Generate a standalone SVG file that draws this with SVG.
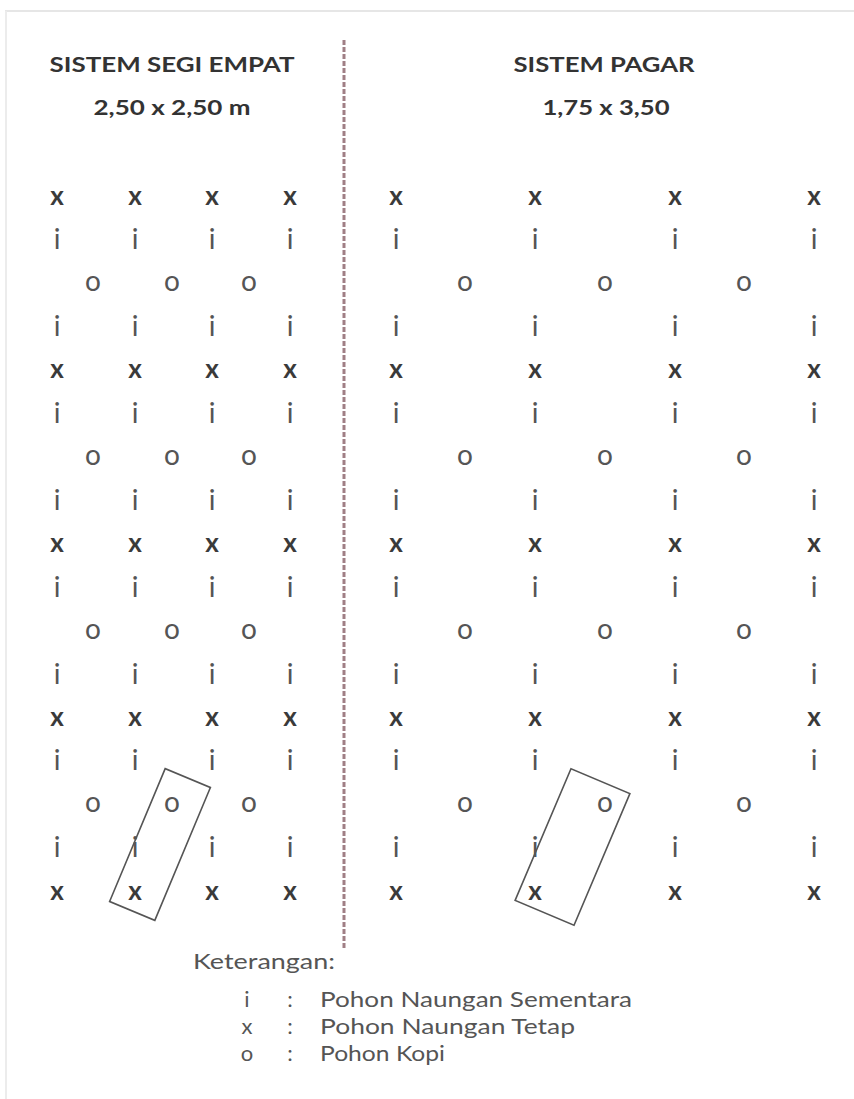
<svg xmlns="http://www.w3.org/2000/svg" width="854" height="1099" viewBox="0 0 854 1099">
<style>
.t{font-family:Lato,"Open Sans","Liberation Sans",sans-serif;font-weight:bold;font-size:21px;fill:#333;text-anchor:middle}
.m{font-family:Lato,"Open Sans","Liberation Sans",sans-serif;text-anchor:middle}
.mx{font-size:26px;font-weight:bold;fill:#3a3a3a}
.mi{font-size:28px;fill:#555}
.lg{font-family:Lato,"Open Sans","Liberation Sans",sans-serif;font-size:22px;fill:#555}
.box{fill:none;stroke:#555;stroke-width:1.6}
</style>
<rect width="854" height="1099" fill="#fff"/>
<g id="frame">
<line x1="5" y1="11" x2="854" y2="11" stroke="#e6e6e6" stroke-width="2"/>
<line x1="6" y1="11" x2="6" y2="1099" stroke="#ececec" stroke-width="2"/>
</g>
<g id="titles">
<text class="t" x="172" y="72" textLength="245" lengthAdjust="spacingAndGlyphs">SISTEM SEGI EMPAT</text>
<text class="t" x="172" y="115" textLength="157" lengthAdjust="spacingAndGlyphs">2,50 x 2,50 m</text>
<text class="t" x="604" y="72" textLength="181" lengthAdjust="spacingAndGlyphs">SISTEM PAGAR</text>
<text class="t" x="606" y="115" textLength="127" lengthAdjust="spacingAndGlyphs">1,75 x 3,50</text>
</g>
<g id="connectors">
<line x1="344" y1="40" x2="344" y2="948" stroke="#a07f85" stroke-width="3" stroke-dasharray="5 2"/>
</g>
<g id="left-grid">
<g id="left-x">
<text class="m mx" x="57" y="204.5">x</text><text class="m mx" x="135" y="204.5">x</text><text class="m mx" x="212" y="204.5">x</text><text class="m mx" x="290" y="204.5">x</text>
<text class="m mx" x="57" y="378">x</text><text class="m mx" x="135" y="378">x</text><text class="m mx" x="212" y="378">x</text><text class="m mx" x="290" y="378">x</text>
<text class="m mx" x="57" y="552">x</text><text class="m mx" x="135" y="552">x</text><text class="m mx" x="212" y="552">x</text><text class="m mx" x="290" y="552">x</text>
<text class="m mx" x="57" y="726">x</text><text class="m mx" x="135" y="726">x</text><text class="m mx" x="212" y="726">x</text><text class="m mx" x="290" y="726">x</text>
<text class="m mx" x="57" y="899.5">x</text><text class="m mx" x="135" y="899.5">x</text><text class="m mx" x="212" y="899.5">x</text><text class="m mx" x="290" y="899.5">x</text>
</g>
<g id="left-i">
<text class="m mi" x="57" y="249">i</text><text class="m mi" x="135" y="249">i</text><text class="m mi" x="212" y="249">i</text><text class="m mi" x="290" y="249">i</text>
<text class="m mi" x="57" y="336">i</text><text class="m mi" x="135" y="336">i</text><text class="m mi" x="212" y="336">i</text><text class="m mi" x="290" y="336">i</text>
<text class="m mi" x="57" y="423">i</text><text class="m mi" x="135" y="423">i</text><text class="m mi" x="212" y="423">i</text><text class="m mi" x="290" y="423">i</text>
<text class="m mi" x="57" y="510">i</text><text class="m mi" x="135" y="510">i</text><text class="m mi" x="212" y="510">i</text><text class="m mi" x="290" y="510">i</text>
<text class="m mi" x="57" y="597">i</text><text class="m mi" x="135" y="597">i</text><text class="m mi" x="212" y="597">i</text><text class="m mi" x="290" y="597">i</text>
<text class="m mi" x="57" y="684">i</text><text class="m mi" x="135" y="684">i</text><text class="m mi" x="212" y="684">i</text><text class="m mi" x="290" y="684">i</text>
<text class="m mi" x="57" y="770">i</text><text class="m mi" x="135" y="770">i</text><text class="m mi" x="212" y="770">i</text><text class="m mi" x="290" y="770">i</text>
<text class="m mi" x="57" y="857">i</text><text class="m mi" x="135" y="857">i</text><text class="m mi" x="212" y="857">i</text><text class="m mi" x="290" y="857">i</text>
</g>
<g id="left-o">
<text class="m mi" x="93" y="291">o</text><text class="m mi" x="172" y="291">o</text><text class="m mi" x="249" y="291">o</text>
<text class="m mi" x="93" y="465">o</text><text class="m mi" x="172" y="465">o</text><text class="m mi" x="249" y="465">o</text>
<text class="m mi" x="93" y="638.5">o</text><text class="m mi" x="172" y="638.5">o</text><text class="m mi" x="249" y="638.5">o</text>
<text class="m mi" x="93" y="812">o</text><text class="m mi" x="172" y="812">o</text><text class="m mi" x="249" y="812">o</text>
</g>
</g>
<g id="right-grid">
<g id="right-x">
<text class="m mx" x="396" y="204.5">x</text><text class="m mx" x="535" y="204.5">x</text><text class="m mx" x="675" y="204.5">x</text><text class="m mx" x="814" y="204.5">x</text>
<text class="m mx" x="396" y="378">x</text><text class="m mx" x="535" y="378">x</text><text class="m mx" x="675" y="378">x</text><text class="m mx" x="814" y="378">x</text>
<text class="m mx" x="396" y="552">x</text><text class="m mx" x="535" y="552">x</text><text class="m mx" x="675" y="552">x</text><text class="m mx" x="814" y="552">x</text>
<text class="m mx" x="396" y="726">x</text><text class="m mx" x="535" y="726">x</text><text class="m mx" x="675" y="726">x</text><text class="m mx" x="814" y="726">x</text>
<text class="m mx" x="396" y="899.5">x</text><text class="m mx" x="535" y="899.5">x</text><text class="m mx" x="675" y="899.5">x</text><text class="m mx" x="814" y="899.5">x</text>
</g>
<g id="right-i">
<text class="m mi" x="396" y="249">i</text><text class="m mi" x="535" y="249">i</text><text class="m mi" x="675" y="249">i</text><text class="m mi" x="814" y="249">i</text>
<text class="m mi" x="396" y="336">i</text><text class="m mi" x="535" y="336">i</text><text class="m mi" x="675" y="336">i</text><text class="m mi" x="814" y="336">i</text>
<text class="m mi" x="396" y="423">i</text><text class="m mi" x="535" y="423">i</text><text class="m mi" x="675" y="423">i</text><text class="m mi" x="814" y="423">i</text>
<text class="m mi" x="396" y="510">i</text><text class="m mi" x="535" y="510">i</text><text class="m mi" x="675" y="510">i</text><text class="m mi" x="814" y="510">i</text>
<text class="m mi" x="396" y="597">i</text><text class="m mi" x="535" y="597">i</text><text class="m mi" x="675" y="597">i</text><text class="m mi" x="814" y="597">i</text>
<text class="m mi" x="396" y="684">i</text><text class="m mi" x="535" y="684">i</text><text class="m mi" x="675" y="684">i</text><text class="m mi" x="814" y="684">i</text>
<text class="m mi" x="396" y="770">i</text><text class="m mi" x="535" y="770">i</text><text class="m mi" x="675" y="770">i</text><text class="m mi" x="814" y="770">i</text>
<text class="m mi" x="396" y="857">i</text><text class="m mi" x="535" y="857">i</text><text class="m mi" x="675" y="857">i</text><text class="m mi" x="814" y="857">i</text>
</g>
<g id="right-o">
<text class="m mi" x="465" y="291">o</text><text class="m mi" x="605" y="291">o</text><text class="m mi" x="744" y="291">o</text>
<text class="m mi" x="465" y="465">o</text><text class="m mi" x="605" y="465">o</text><text class="m mi" x="744" y="465">o</text>
<text class="m mi" x="465" y="638.5">o</text><text class="m mi" x="605" y="638.5">o</text><text class="m mi" x="744" y="638.5">o</text>
<text class="m mi" x="465" y="812">o</text><text class="m mi" x="605" y="812">o</text><text class="m mi" x="744" y="812">o</text>
</g>
</g>
<g id="unit-left">
<rect class="box" x="-24.5" y="-72" width="49" height="144" transform="translate(160 844.5) rotate(22.7)"/>
</g>
<g id="unit-right">
<rect class="box" x="-32" y="-71.5" width="64" height="143" transform="translate(572.5 847) rotate(23)"/>
</g>
<g id="legend">
<text class="lg" x="193" y="969" textLength="142" lengthAdjust="spacingAndGlyphs">Keterangan:</text>
<text class="lg" x="247" y="1007" text-anchor="middle">i</text>
<text class="lg" x="290" y="1007" text-anchor="middle">:</text>
<text class="lg" x="320" y="1007" textLength="312" lengthAdjust="spacingAndGlyphs">Pohon Naungan Sementara</text>
<text class="lg" x="247" y="1034" text-anchor="middle">x</text>
<text class="lg" x="290" y="1034" text-anchor="middle">:</text>
<text class="lg" x="320" y="1034" textLength="255" lengthAdjust="spacingAndGlyphs">Pohon Naungan Tetap</text>
<text class="lg" x="247" y="1061" text-anchor="middle">o</text>
<text class="lg" x="290" y="1061" text-anchor="middle">:</text>
<text class="lg" x="320" y="1061" textLength="125" lengthAdjust="spacingAndGlyphs">Pohon Kopi</text>
</g>
</svg>
